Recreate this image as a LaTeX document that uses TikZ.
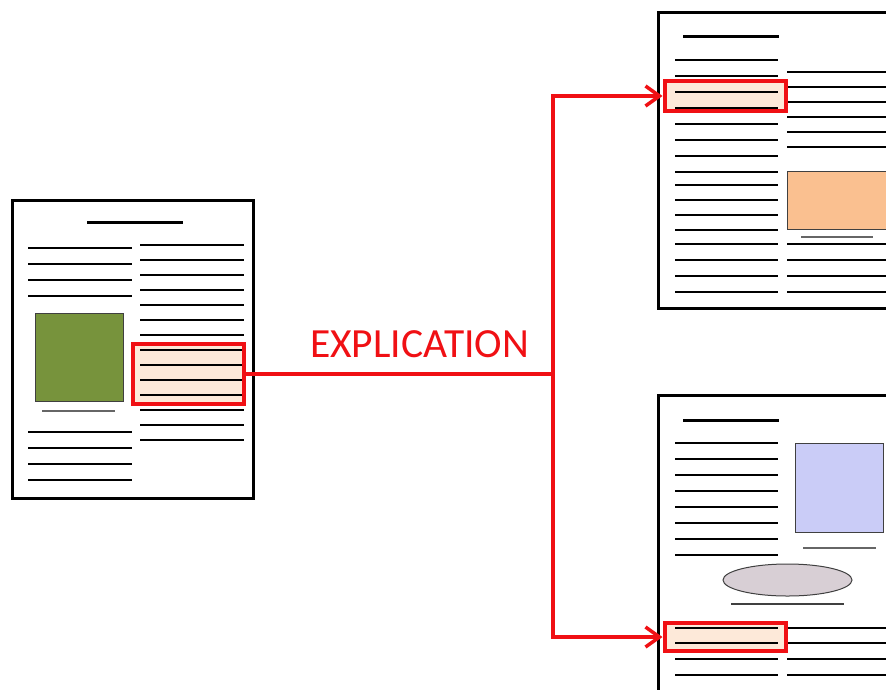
\documentclass[tikz,border=0pt]{standalone}
\usepackage{fontspec}
\newfontfamily\calib{Carlito}
\usetikzlibrary{arrows.meta}
\definecolor{hlred}{RGB}{240,16,20}
\definecolor{peach}{RGB}{253,233,217}
\definecolor{olive}{RGB}{119,147,60}
\definecolor{orangefill}{RGB}{250,192,144}
\definecolor{bluefill}{RGB}{202,204,247}
\definecolor{ellfill}{RGB}{216,207,213}
\tikzset{
  page/.style={draw=black,line width=3pt,fill=white},
  tline/.style={draw=black,line width=2pt},
  ttl/.style={draw=black,line width=3pt},
  capline/.style={draw=black!60,line width=1.5pt},
  pic/.style={draw=black!75,line width=1pt},
  hlbox/.style={draw=hlred,line width=4pt,rectangle,inner sep=0pt,outer sep=2pt},
  hlfill/.style={fill=peach},
  conn/.style={draw=hlred,line width=3.5pt},
  tiparrow/.style={-{Straight Barb[length=14pt,width=20pt,line width=3.5pt]}}
}
\begin{document}
\begin{tikzpicture}[x=1pt,y=-1pt]
\useasboundingbox (0,0) rectangle (886,689);
\clip (0,0) rectangle (886,689);
\fill[white] (0,0) rectangle (886,689);

% ---------- left document ----------
\draw[page] (12,200) rectangle (253,498);
\fill[hlfill] (131,342) rectangle (246,406);
\draw[ttl] (87,222) -- (183,222);
\foreach \y in {248,264,280,296,432,448,464,480}
  \draw[tline] (28,\y) -- (132,\y);
\foreach \y in {245,260,275,290,305,320,335,350,365,380,395,410,425,440}
  \draw[tline] (140,\y) -- (244,\y);
\draw[pic,fill=olive] (35,313) rectangle (123,401);
\draw[capline] (42,411) -- (115,411);
\node[hlbox,minimum width=111pt,minimum height=60pt] (src) at (188.5,374) {};

% ---------- top right document ----------
\draw[page] (658,12) rectangle (1000,308);
\fill[hlfill] (664,81) rectangle (785,111);
\draw[ttl] (683,36) -- (779,36);
\foreach \y in {60,76,92,108,124,140,156,172,185,200,215,230,244,260,276,292}
  \draw[tline] (675,\y) -- (778,\y);
\foreach \y in {72,87,102,117,132,147,244,260,276,292}
  \draw[tline] (787,\y) -- (1000,\y);
\draw[pic,fill=orangefill] (787,171) rectangle (1000,229);
\draw[capline] (801,237) -- (873,237);
\node[hlbox,minimum width=121pt,minimum height=30pt] (dstA) at (725,96) {};

% ---------- bottom right document ----------
\draw[page] (658,395) rectangle (1000,760);
\fill[hlfill] (664,623) rectangle (785,651);
\draw[ttl] (683,420) -- (779,420);
\foreach \y in {443,459,475,491,507,523,539,555,628,643,659,675}
  \draw[tline] (675,\y) -- (778,\y);
\foreach \y in {628,643,659,675}
  \draw[tline] (787,\y) -- (1000,\y);
\draw[pic,fill=bluefill] (795,443) rectangle (883,532);
\draw[capline] (803,548) -- (876,548);
\draw[pic,fill=ellfill] (787.5,580) ellipse [x radius=64.5pt,y radius=16pt];
\draw[capline,line width=1.2pt,draw=black!75] (731,604) -- (844,604);
\node[hlbox,minimum width=121pt,minimum height=28pt] (dstB) at (725,637) {};

% ---------- connectors ----------
\coordinate (j) at (553,374);
\draw[conn] (src.east) -- (j);
\draw[conn,tiparrow] (j) |- (dstA.west);
\draw[conn,tiparrow] (j) |- (dstB.west);

\node[anchor=base west,inner sep=0pt,text=hlred,font=\calib\fontsize{41.5}{44}\selectfont] (lbl) at (310,357) {EXPLICATION};
\end{tikzpicture}
\end{document}
